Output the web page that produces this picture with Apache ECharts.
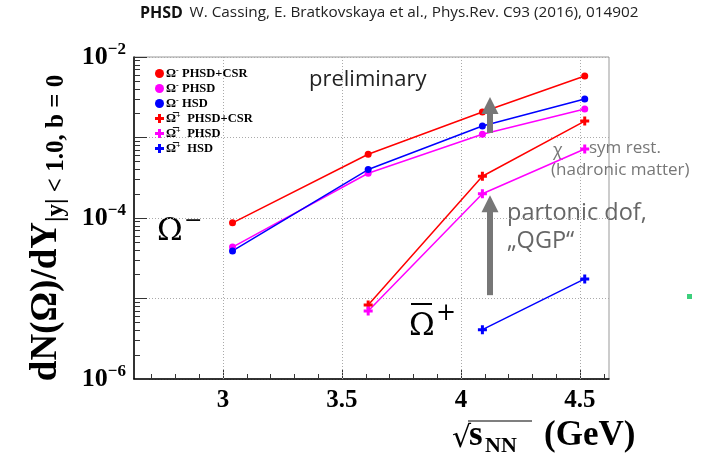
<!DOCTYPE html>
<html>
<head>
<meta charset="utf-8">
<script src="https://cdn.jsdelivr.net/npm/echarts@6/dist/echarts.min.js"></script>
<style>
html,body{margin:0;padding:0;background:#fff;}
#main{width:704px;height:459px;}
</style>
</head>
<body>
<div id="main"></div>
<script>
// sqrt(s_NN) points (GeV)
var energies = [3.04, 3.61, 4.09, 4.52];
// Omega- yields
var omMinusCSR  = [8.7e-5, 6.2e-4, 2.07e-3, 5.8e-3];
var omMinusPHSD = [4.35e-5, 3.6e-4, 1.1e-3, 2.26e-3];
var omMinusHSD  = [3.9e-5, 4.0e-4, 1.39e-3, 3.0e-3];
// anti-Omega+ yields
var antiCSR  = [null, 8.3e-6, 3.3e-4, 1.6e-3];
var antiPHSD = [null, 7.0e-6, 2.0e-4, 7.2e-4];
var antiHSD  = [null, null, 4.1e-6, 1.75e-5];

var xTicks = [3, 3.5, 4, 4.5];
var seriesNames = ['Om- PHSD+CSR', 'Om- PHSD', 'Om- HSD', 'aOm+ PHSD+CSR', 'aOm+ PHSD', 'aOm+ HSD'];
var seriesColors = ['#ff0000', '#ff00ff', '#0000ff', '#ff0000', '#ff00ff', '#0000ff'];

var XMIN = 2.626, XMAX = 4.622;
var YMIN = 1e-6, YMAX = 1e-2;
var SERIF = '"Liberation Serif","DejaVu Serif",serif';
var PLUS = 'path://M-1,-3H1V-1H3V1H1V3H-1V1H-3V-1H-1Z';

function pairs(vals){
	var out = [];
	for(var i = 0;i<energies.length;i++){
		if(vals[i] != null) out.push([energies[i], vals[i]]);
	}
	return out;
}
// minor tick positions
var xMinor = [];
for(var v = 27;v<=46;v++){
	if(v % 5 != 0) xMinor.push(v/10);
}
var yMinor = [];
for(var e = -6;e<-2;e++){
	for(var k = 2;k<=9;k++) yMinor.push(e + Math.log10(k));
}

var dom = document.getElementById("main");
var myChart = echarts.init(dom);

var allData = [omMinusCSR, omMinusPHSD, omMinusHSD, antiCSR, antiPHSD, antiHSD];
var series = [];
for(var i = 0;i<6;i++){
	series.push({
		name: seriesNames[i],
		type: 'line',
		xAxisIndex: 0,
		yAxisIndex: 0,
		data: pairs(allData[i]),
		symbol: i < 3 ? 'circle' : PLUS,
		symbolSize: i < 3 ? 7 : 9,
		showSymbol: true,
		itemStyle: {color: seriesColors[i]},
		lineStyle: {color: seriesColors[i], width: 1.5},
		animation: false,
		z: 3
	});
}
// arrows, in data coordinates
series[5].markLine = {
	silent: true,
	symbol: ['none', 'triangle'],
	symbolSize: [17, 17],
	label: {show: false},
	lineStyle: {color: '#777', width: 6, type: 'solid'},
	emphasis: {disabled: true},
	data: [
		[{coord: [4.122, 1.1e-5]}, {coord: [4.122, 1.5e-4]}],
		[{coord: [4.122, 1.14e-3]}, {coord: [4.122, 2.5e-3]}]
	]
};

var legendRich = {
	o: {fontFamily: SERIF, fontWeight: 'bold', fontSize: 12.5, color: '#000', lineHeight: 13},
	s: {fontFamily: SERIF, fontWeight: 'bold', fontSize: 8, color: '#000', lineHeight: 13, verticalAlign: 'top'},
	t: {fontFamily: SERIF, fontWeight: 'bold', fontSize: 12.5, color: '#000', lineHeight: 13}
};

var graphics = [
	{
		type: 'text', left: 140, top: 5,
		style: {
			text: '{b|PHSD}  {n|W. Cassing, E. Bratkovskaya et al., Phys.Rev. C93 (2016), 014902}',
			rich: {
				b: {fontFamily: 'Open Sans', fontWeight: 'bold', fontSize: 16, fill: '#111'},
				n: {fontFamily: 'Open Sans', fontSize: 15.3, fill: '#222'}
			}
		}
	},
	{
		type: 'text', x: 46, y: 228, rotation: Math.PI / 2,
		style: {
			text: '{m|dN(Ω)/dY}{u||y| < 1.0, b = 0}',
			align: 'center', verticalAlign: 'middle',
			rich: {
				m: {fontFamily: SERIF, fontWeight: 'bold', fontSize: 37, fill: '#000'},
				u: {fontFamily: SERIF, fontWeight: 'bold', fontSize: 25, fill: '#000', padding: [22, 0, 0, 0]}
			}
		}
	},
	{
		type: 'text', x: 309, y: 80,
		style: {text: 'preliminary', fontFamily: 'Open Sans', fontSize: 22, fill: '#222', verticalAlign: 'middle'}
	},
	{
		type: 'text', x: 553, y: 151,
		style: {text: 'χ', fontFamily: 'Open Sans', fontSize: 18, fill: '#777', verticalAlign: 'middle'}
	},
	{
		type: 'text', x: 589, y: 148,
		style: {text: 'sym rest.', fontFamily: 'Open Sans', fontSize: 17, fill: '#777', verticalAlign: 'middle'}
	},
	{
		type: 'text', x: 551, y: 170,
		style: {text: '(hadronic matter)', fontFamily: 'Open Sans', fontSize: 17, fill: '#777', verticalAlign: 'middle'}
	},
	{
		type: 'text', x: 507, y: 213,
		style: {text: 'partonic dof,', fontFamily: 'Open Sans', fontSize: 23.5, fill: '#666', verticalAlign: 'middle'}
	},
	{
		type: 'text', x: 507, y: 241,
		style: {text: '„QGP“', fontFamily: 'Open Sans', fontSize: 23.5, fill: '#666', verticalAlign: 'middle'}
	},
	{
		type: 'text', x: 157, y: 232,
		style: {text: 'Ω', fontFamily: '"DejaVu Serif",serif', fontSize: 31, fill: '#000', verticalAlign: 'middle'}
	},
	{
		type: 'text', x: 184, y: 221,
		style: {text: '−', fontFamily: '"DejaVu Serif",serif', fontSize: 22, fill: '#000', verticalAlign: 'middle'}
	},
	{
		type: 'text', x: 409, y: 327,
		style: {text: 'Ω', fontFamily: '"DejaVu Serif",serif', fontSize: 31, fill: '#000', verticalAlign: 'middle'}
	},
	{
		type: 'line', shape: {x1: 411, y1: 304, x2: 432, y2: 304}, style: {stroke: '#000', lineWidth: 2}
	},
	{
		type: 'text', x: 436, y: 314,
		style: {text: '+', fontFamily: '"DejaVu Serif",serif', fontSize: 24, fill: '#000', verticalAlign: 'middle'}
	},
	{
		type: 'rect', shape: {x: 687, y: 294, width: 5, height: 5}, style: {fill: '#3ccf7c'}
	},
	// x axis title: sqrt(s_NN) (GeV)
	{
		type: 'text', x: 452, y: 439,
		style: {text: '√', fontFamily: '"DejaVu Sans"', fontSize: 30, fill: '#000', verticalAlign: 'middle'}
	},
	{
		type: 'line', shape: {x1: 468, y1: 421, x2: 532, y2: 421}, style: {stroke: '#000', lineWidth: 1.2}
	},
	{
		type: 'text', x: 469, y: 436,
		style: {text: 's', fontFamily: SERIF, fontWeight: 'bold', fontSize: 35, fill: '#000', verticalAlign: 'middle'}
	},
	{
		type: 'text', x: 485, y: 446,
		style: {text: 'NN', fontFamily: SERIF, fontWeight: 'bold', fontSize: 22, fill: '#000', verticalAlign: 'middle'}
	},
	{
		type: 'text', x: 544, y: 436,
		style: {text: '(GeV)', fontFamily: SERIF, fontWeight: 'bold', fontSize: 35, fill: '#000', verticalAlign: 'middle'}
	}
];

var option = {
	backgroundColor: '#fff',
	animation: false,
	grid: {
		left: 134, right: 95, top: 57, bottom: 80,
		show: true, borderColor: '#999', borderWidth: 1, backgroundColor: 'transparent'
	},
	legend: {
		orient: 'vertical',
		left: 150, top: 62,
		itemWidth: 9, itemHeight: 9,
		itemGap: 2,
		selectedMode: false,
		data: seriesNames.map(function(n, i){
			return {name: n, icon: i < 3 ? 'circle' : PLUS};
		}),
		formatter: function(name){
			var idx = seriesNames.indexOf(name);
			var model = name.split(' ')[1];
			if(idx < 3) return '{o|Ω}{s|-} {t|' + model + '}';
			return '{o|Ω̅}{s|+}  {t|' + model + '}';
		},
		textStyle: {rich: legendRich, lineHeight: 13, padding: [0, 0, 0, -3]}
	},
	xAxis: [
		{
			type: 'value', min: XMIN, max: XMAX,
			position: 'bottom',
			axisLine: {show: true, onZero: false, lineStyle: {color: '#000', width: 1.5}},
			axisTick: {show: true, inside: true, length: 10, customValues: xTicks, lineStyle: {color: '#333', width: 1}},
			axisLabel: {
				customValues: xTicks, margin: 9,
				fontFamily: SERIF, fontWeight: 'bold', fontSize: 25, color: '#000'
			},
			splitLine: {show: false}
		},
		{
			type: 'value', min: XMIN, max: XMAX,
			position: 'bottom',
			axisLine: {show: false, onZero: false},
			axisTick: {show: true, inside: true, length: 5, customValues: xMinor, lineStyle: {color: '#333', width: 1}},
			axisLabel: {show: false},
			splitLine: {show: false}
		}
	],
	yAxis: [
		{
			type: 'log', logBase: 10, min: YMIN, max: YMAX,
			position: 'left',
			axisLine: {show: true, onZero: false, lineStyle: {color: '#000', width: 1.5}},
			axisTick: {show: true, inside: true, length: 13, lineStyle: {color: '#333', width: 1}},
			axisLabel: {
				margin: 8,
				formatter: function(val){
					var ex = Math.round(Math.log10(val));
					if(ex % 2 != 0) return '';
					return '{b|10}{s|−' + (-ex) + '}';
				},
				rich: {
					b: {fontFamily: SERIF, fontWeight: 'bold', fontSize: 26, color: '#000'},
					s: {fontFamily: SERIF, fontWeight: 'bold', fontSize: 17, color: '#000', padding: [0, 0, 14, 0]}
				}
			},
			splitLine: {show: true, lineStyle: {color: '#aaa', type: [1, 2], width: 1}}
		},
		{
			type: 'value', min: -6, max: -2,
			position: 'left',
			axisLine: {show: false, onZero: false},
			axisTick: {show: true, inside: true, length: 6, customValues: yMinor, lineStyle: {color: '#333', width: 1}},
			axisLabel: {show: false},
			splitLine: {show: false}
		}
	],
	graphic: graphics,
	series: series
};

if (option && typeof option === "object") {
	myChart.setOption(option, true);
	// vertical dotted grid lines, placed through the chart's own axes
	var vlines = [];
	for(var j = 0;j<xTicks.length;j++){
		var pLo = myChart.convertToPixel({xAxisIndex: 0, yAxisIndex: 0}, [xTicks[j], YMIN]);
		var pHi = myChart.convertToPixel({xAxisIndex: 0, yAxisIndex: 0}, [xTicks[j], YMAX]);
		if(!pLo || !pHi) continue;
		var xp = Math.round(pLo[0]) + 0.5;
		vlines.push({
			type: 'line', silent: true, z: 1,
			shape: {x1: xp, y1: pLo[1], x2: xp, y2: pHi[1]},
			style: {stroke: '#aaa', lineWidth: 1, lineDash: [1, 2]}
		});
	}
	option.graphic = graphics.concat(vlines);
	myChart.setOption(option, true);
}
</script>
</body>
</html>
